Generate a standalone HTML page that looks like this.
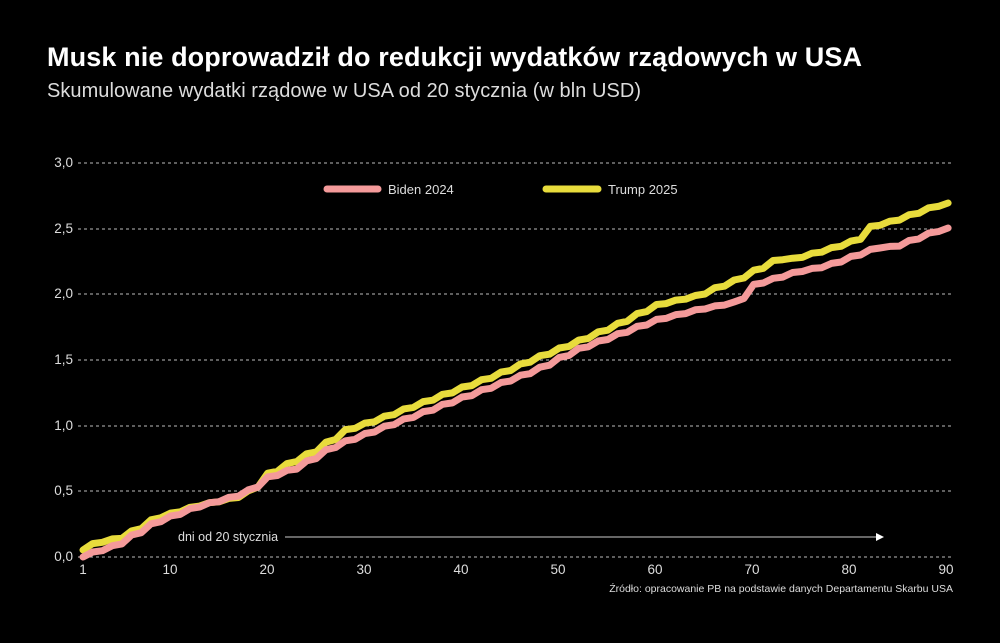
<!DOCTYPE html>
<html><head><meta charset="utf-8"><style>
html,body{margin:0;padding:0;background:#000;}
body{width:1000px;height:638px;overflow:hidden;font-family:"Liberation Sans",sans-serif;color:#fff;}
</style></head><body>
<svg id="s" width="1000" height="638" xmlns="http://www.w3.org/2000/svg" font-family="Liberation Sans, sans-serif">
<rect width="1000" height="638" fill="#000"/>
<text x="47" y="66" font-size="27" font-weight="bold" fill="#fff" textLength="815">Musk nie doprowadził do redukcji wydatków rządowych w USA</text>
<text x="47" y="97" font-size="20" fill="#ddd" textLength="594">Skumulowane wydatki rządowe w USA od 20 stycznia (w bln USD)</text>
<g stroke="#bbb" stroke-width="1" stroke-dasharray="3,3">
<line x1="78" x2="953" y1="163" y2="163"/><line x1="78" x2="953" y1="229" y2="229"/>
<line x1="78" x2="953" y1="294" y2="294"/><line x1="78" x2="953" y1="360" y2="360"/>
<line x1="78" x2="953" y1="426" y2="426"/><line x1="78" x2="953" y1="491" y2="491"/>
<line x1="78" x2="953" y1="557" y2="557"/>
</g>
<g font-size="13.5" fill="#ddd" text-anchor="end">
<text x="73" y="167">3,0</text><text x="73" y="233">2,5</text><text x="73" y="298">2,0</text>
<text x="73" y="364">1,5</text><text x="73" y="430">1,0</text><text x="73" y="495">0,5</text><text x="73" y="561">0,0</text>
</g>
<g font-size="13.5" fill="#ddd" text-anchor="middle">
<text x="83" y="574">1</text><text x="170" y="574">10</text><text x="267" y="574">20</text><text x="364" y="574">30</text>
<text x="461" y="574">40</text><text x="558" y="574">50</text><text x="655" y="574">60</text><text x="752" y="574">70</text>
<text x="849" y="574">80</text><text x="946" y="574">90</text>
</g>
<text x="178" y="541" font-size="12.5" fill="#ddd">dni od 20 stycznia</text>
<line x1="285" x2="876" y1="537" y2="537" stroke="#ccc" stroke-width="1"/>
<polygon points="876,533 884,537 876,541" fill="#fff"/>
<text x="953" y="592" font-size="10.5" fill="#ddd" text-anchor="end">Źródło: opracowanie PB na podstawie danych Departamentu  Skarbu USA</text>
<line x1="327" x2="378" y1="189" y2="189" stroke="#f49a9a" stroke-width="7" stroke-linecap="round"/>
<text x="388" y="194" font-size="13" fill="#ddd">Biden 2024</text>
<line x1="546" x2="598" y1="189" y2="189" stroke="#e8dc3c" stroke-width="7" stroke-linecap="round"/>
<text x="608" y="194" font-size="13" fill="#ddd">Trump 2025</text>
<polyline id="t" fill="none" stroke="#e8dc3c" stroke-width="7" stroke-linejoin="round" stroke-linecap="round"/>
<polyline id="b" fill="none" stroke="#f49a9a" stroke-width="7" stroke-linejoin="round" stroke-linecap="round"/>
</svg>
<script>
function interp(k,x){for(var i=0;i<k.length-1;i++){if(x<=k[i+1][0]){var a=k[i],b=k[i+1];return a[1]+(b[1]-a[1])*(x-a[0])/(b[0]-a[0]);}}return k[k.length-1][1];}
var T=[[83,550],[100,543],[110,540],[125,538],[160,518],[200,506],[250,495],[270,475],[290,465],[320,450],[350,430],[380,420],[420,405],[460,390],[500,375],[540,358],[580,342],[620,325],[660,305],[700,296],[740,280],[780,260],[800,258],[830,250],[860,240],[870,228],[900,220],[948,203]];
var B=[[83,557],[120,545],[160,522],[200,507],[250,493],[270,478],[300,468],[340,445],[380,430],[420,415],[460,400],[500,385],[540,370],[580,350],[620,335],[660,320],[700,310],[740,302],[760,284],[800,272],[830,266],[880,248],[900,246],[948,228]];
function pts(k){var p=[];for(var d=0;d<90;d++){var x=83+d*9.72;var e=Math.floor(d/2)*2;var y=interp(k,83+e*9.72);if(d%2==1){y=interp(k,83+(e+1.6)*9.72);}p.push(x.toFixed(1)+","+y.toFixed(1));}return p.join(" ");}
document.getElementById("t").setAttribute("points",pts(T));
document.getElementById("b").setAttribute("points",pts(B));
</script>
</body></html>
